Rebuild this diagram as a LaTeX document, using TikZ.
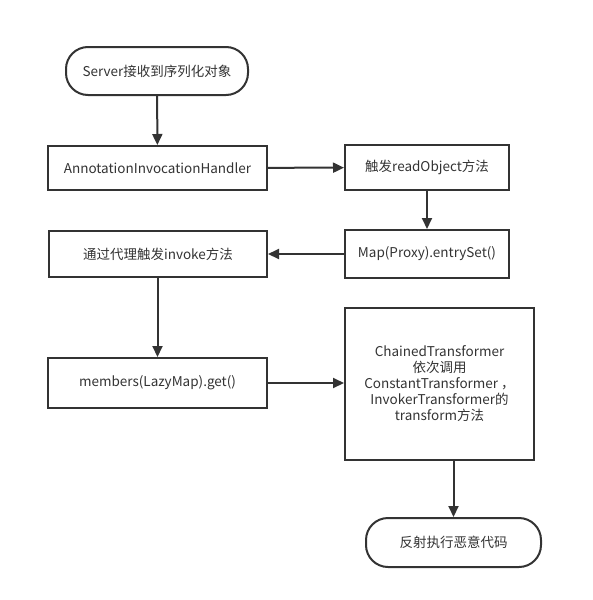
\documentclass[tikz,border=0pt]{standalone}
\usepackage{fontspec}
\setmainfont{Noto Sans CJK SC}
\usetikzlibrary{arrows.meta}
\definecolor{ln}{HTML}{333333}
\begin{document}
\begin{tikzpicture}[x=1pt,y=-1pt,
  box/.style={draw=ln,line width=2pt,minimum width=#1,inner sep=0pt,align=center,font=\fontsize{13.5}{16}\selectfont,text=ln},
  term/.style={draw=ln,line width=2pt,rounded corners=22pt,inner sep=0pt,align=center,font=\fontsize{13.5}{16}\selectfont,text=ln},
  arr/.style={draw=ln,line width=2pt,-{Triangle[length=11pt,width=10pt]}}]
\useasboundingbox (0,0) rectangle (593,600);
\node[term,minimum width=182pt,minimum height=48pt] (s) at (157,71) {Server接收到序列化对象};
\node[box=219pt,minimum height=44pt] (a) at (157.5,168) {AnnotationInvocationHandler};
\node[box=164pt,minimum height=45pt] (r) at (427,167.5) {触发readObject方法};
\node[box=164pt,minimum height=48pt] (m) at (427,254) {Map(Proxy).entrySet()};
\node[box=218pt,minimum height=46pt] (p) at (158,254) {通过代理触发invoke方法};
\node[box=219pt,minimum height=50pt] (g) at (157.5,383) {members(LazyMap).get()};
\node[box=189pt,minimum height=152pt] (c) at (439.5,384) {ChainedTransformer\\依次调用\\ConstantTransformer ，\\InvokerTransformer的\\transform方法};
\node[term,minimum width=175pt,minimum height=49pt] (e) at (453.5,542.5) {反射执行恶意代码};
\draw[arr] (s) -- (a);
\draw[arr] (a) -- (r);
\draw[arr] (r) -- (m);
\draw[arr] (m) -- (p);
\draw[arr] (p.south -| g) -- (g);
\draw[arr] (g) -- (c.west |- g);
\draw[arr] (c.south -| e) -- (e);
\end{tikzpicture}
\end{document}
